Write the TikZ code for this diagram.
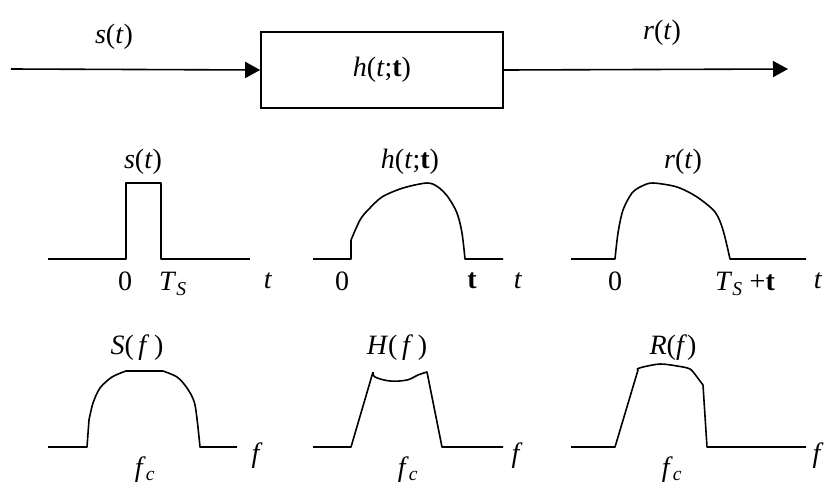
\documentclass[tikz,border=0pt]{standalone}
\usepackage{fontspec}
\setmainfont{Liberation Serif}
\usetikzlibrary{arrows.meta,positioning}

\newcommand{\vi}[1]{\textit{#1}}

\begin{document}
\begin{tikzpicture}[
  x=1pt,y=-1pt,
  >={Triangle[length=15pt,width=16pt]},
  every node/.style={font=\fontsize{28}{32}\selectfont,inner sep=0pt},
  sys/.style={draw,line width=1.6pt,minimum width=242pt,minimum height=76pt},
  sig/.style={line width=1.6pt,line join=round},
  sigline/.style={line width=1.6pt}
]
\useasboundingbox (0,0) rectangle (827,488);

% ---- channel block ----
\coordinate (in)  at (11,69);
\coordinate (out) at (788,69);
\node[sys] (chan) at (382,70) {\vi{h}(\vi{t};\textbf{t})};
\draw[sigline,->] (in) -- (chan.west);
\draw[sigline,->] (chan.east) -- (out);
\node (sin)  at (114,37) {\vi{s}(\vi{t})};
\node (rout) at (662,33) {\vi{r}(\vi{t})};

% ---- time domain ----
\draw[sig] (48,259) -- (126,259) -- (126,183) -- (161,183) -- (161,259) -- (250,259);
\draw[sig] (313,259) -- (351,259) -- (351,240)
  plot[smooth,tension=0.5] coordinates {(351,240) (360,220) (368,210) (382,197)
    (403,188) (427,183) (438,187) (448,197) (457,213) (462,233) (465,259)}
  -- (503,259);
\draw[sig] (571,259) -- (615,259)
  plot[smooth,tension=0.5] coordinates {(615,259) (618,233) (623,210) (632,193)
    (642,186) (653,183) (677,187) (697,197) (715,212) (723,230) (730,259)}
  -- (806,259);

\node (st)  at (143,162) {\vi{s}(\vi{t})};
\node (ht)  at (410,162) {\vi{h}(\vi{t};\textbf{t})};
\node (rt)  at (683,162) {\vi{r}(\vi{t})};

\node (s0)  at (125,281) {0};
\node (sT)  at (173,284) {\vi{T}\textsubscript{\vi{S}}};
\node (st1) at (268,281) {\vi{t}};
\node (h0)  at (342,281) {0};
\node (htau) at (472,281) {\textbf{t}};
\node (ht1) at (518,281) {\vi{t}};
\node (r0)  at (615,281) {0};
\node (rT)  at (745,284) {\vi{T}\textsubscript{\vi{S}} +\textbf{t}};
\node (rt1) at (818,281) {\vi{t}};

% ---- frequency domain ----
\draw[sig] (48,447) -- (87,447) -- (89,420)
  plot[smooth,tension=0.5] coordinates {(89,420) (93,403) (100,388) (112,377) (126,371)}
  -- (163,371)
  plot[smooth,tension=0.5] coordinates {(163,371) (177,377) (187,388) (195,405) (200,447)}
  -- (237,447);
\draw[sig] (313,447) -- (351,447) -- (373,372)
  plot[smooth,tension=0.6] coordinates {(373,372) (375,377) (390,381) (407,380) (418,375) (427,372)}
  -- (442,447) -- (503,447);
\draw[sig] (571,447) -- (615,447) -- (638,370) -- (637,369)
  plot[smooth,tension=0.5] coordinates {(637,369) (643,367) (660,364) (677,366) (690,369) (697,377) (703,385)}
  -- (707,447) -- (806,447);

\node (Sf) at (137,348) {\vi{S}(\,\vi{f}\,)};
\node (Hf) at (397,348) {\vi{H}(\,\vi{f}\,)};
\node (Rf) at (673,348) {\vi{R}(\vi{f})};

\node (sf)  at (257,456) {\vi{f}};
\node (hf)  at (517,456) {\vi{f}};
\node (rf)  at (818,456) {\vi{f}};
\node (sfc) at (145,470) {\vi{f}\textsubscript{\vi{c}}};
\node (hfc) at (408,470) {\vi{f}\textsubscript{\vi{c}}};
\node (rfc) at (672,470) {\vi{f}\textsubscript{\vi{c}}};
\end{tikzpicture}
\end{document}
